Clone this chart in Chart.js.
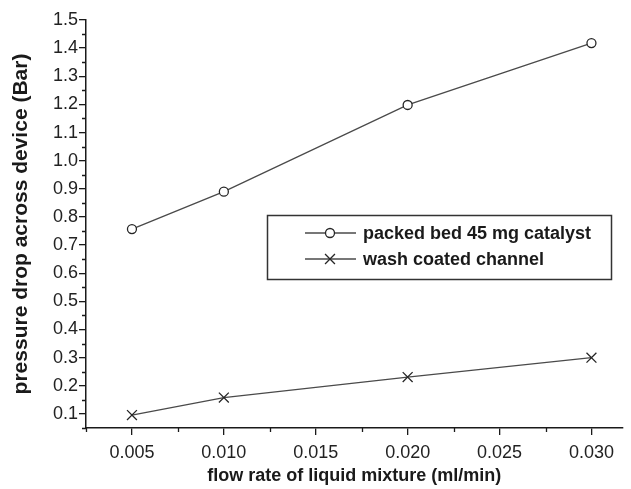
<!DOCTYPE html>
<html>
<head>
<meta charset="utf-8">
<script src="https://cdn.jsdelivr.net/npm/chart.js@4"></script>
<style>
  html, body { margin: 0; padding: 0; background: #fff; }
  #wrap { width: 631px; height: 489px; }
</style>
</head>
<body>
<div id="wrap"><canvas id="chart"></canvas></div>
<script>
// data
const flowRates = [0.005, 0.010, 0.020, 0.030];
const packedBed = [0.757, 0.890, 1.198, 1.418];
const washCoated = [0.096, 0.158, 0.231, 0.300];

const xTicks = [0.005, 0.010, 0.015, 0.020, 0.025, 0.030];
const yTicks = [0.1, 0.2, 0.3, 0.4, 0.5, 0.6, 0.7, 0.8, 0.9, 1.0, 1.1, 1.2, 1.3, 1.4, 1.5];
const xMinor = [0.0025, 0.0075, 0.0125, 0.0175, 0.0225, 0.0275];
const yMinor = [0.05, 0.15, 0.25, 0.35, 0.45, 0.55, 0.65, 0.75, 0.85, 0.95, 1.05, 1.15, 1.25, 1.35, 1.45];

const FONT = "'Liberation Sans', Arial, sans-serif";
const INK = '#1a1a1a';

// minor ticks + framed legend inside plot
const extras = {
    id: 'extras',
    afterDraw(chart) {
        const ctx = chart.ctx;
        const xs = chart.scales.x, ys = chart.scales.y;
        const area = chart.chartArea;
        ctx.save();
        ctx.strokeStyle = INK;
        ctx.lineWidth = 1.3;
        ctx.beginPath();
        xMinor.forEach(v => { const px = Math.round(xs.getPixelForValue(v)) + 0.5; ctx.moveTo(px, area.bottom); ctx.lineTo(px, area.bottom + 4); });
        yMinor.forEach(v => { const py = Math.round(ys.getPixelForValue(v)) + 0.5; ctx.moveTo(area.left, py); ctx.lineTo(area.left - 4, py); });
        ctx.stroke();

        // legend
        const bx = 267, by = 215, bw = 344, bh = 64;
        ctx.fillStyle = '#fff';
        ctx.fillRect(bx, by, bw, bh);
        ctx.strokeStyle = '#333';
        ctx.lineWidth = 1.5;
        ctx.strokeRect(bx + 0.5, by + 0.5, bw, bh);
        chart.data.datasets.forEach((ds, i) => {
            const y = by + 18 + i * 26;
            ctx.strokeStyle = ds.borderColor;
            ctx.lineWidth = ds.borderWidth;
            ctx.beginPath();
            ctx.moveTo(305, y); ctx.lineTo(356, y);
            ctx.stroke();
            ctx.fillStyle = '#fff';
            ctx.strokeStyle = ds.pointBorderColor;
            Chart.helpers.drawPoint(ctx, {
                pointStyle: ds.pointStyle, radius: ds.pointRadius, borderWidth: ds.pointBorderWidth
            }, 330, y);
            ctx.fillStyle = INK;
            ctx.font = 'bold 18px ' + FONT;
            ctx.textBaseline = 'middle';
            ctx.fillText(ds.label, 363, y + 1);
        });
        ctx.restore();
    }
};

const mk = (label, data, style, r) => ({
    label, data: flowRates.map((x, i) => ({ x, y: data[i] })),
    borderColor: '#4a4a4a', borderWidth: 1.3,
    pointStyle: style, pointRadius: r, pointBorderWidth: 1.3,
    pointBorderColor: '#262626', pointBackgroundColor: '#fff',
    tension: 0
});

new Chart(document.getElementById('chart'), {
    type: 'line',
    data: {
        datasets: [
            mk('packed bed 45 mg catalyst', packedBed, 'circle', 4.5),
            mk('wash coated channel', washCoated, 'crossRot', 7)
        ]
    },
    options: {
        responsive: true,
        maintainAspectRatio: false,
        animation: false,
        events: [],
        layout: { padding: { top: 20, right: 0, left: 0, bottom: 0 } },
        plugins: { legend: { display: false }, tooltip: { enabled: false } },
        scales: {
            x: {
                type: 'linear', min: 0.0025, max: 0.0317,
                afterBuildTicks: s => { s.ticks = xTicks.map(v => ({ value: v })); },
                afterFit: s => { s.height = 61; },
                border: { color: INK, width: 1.5 },
                grid: { drawOnChartArea: false, drawTicks: true, tickLength: 7, color: INK, lineWidth: 1.3 },
                ticks: { color: '#222', font: { family: FONT, size: 18 }, padding: 7, maxRotation: 0, callback: v => v.toFixed(3) },
                title: { display: true, text: 'flow rate of liquid mixture (ml/min)', color: INK,
                    font: { family: FONT, size: 18, weight: 'bold' }, padding: { top: 0, bottom: 2 } }
            },
            y: {
                type: 'linear', min: 0.05, max: 1.5,
                afterBuildTicks: s => { s.ticks = yTicks.map(v => ({ value: v })); },
                afterFit: s => { s.width = 86; },
                border: { color: INK, width: 1.5 },
                grid: { drawOnChartArea: false, drawTicks: true, tickLength: 7, color: INK, lineWidth: 1.3 },
                ticks: { color: '#222', font: { family: FONT, size: 18 }, padding: 1, callback: v => v.toFixed(1) },
                title: { display: true, text: 'pressure drop across device (Bar)', color: INK,
                    font: { family: FONT, size: 21, weight: 'bold' }, padding: { top: 9, bottom: 0 } }
            }
        }
    },
    plugins: [extras]
});
</script>
</body>
</html>
